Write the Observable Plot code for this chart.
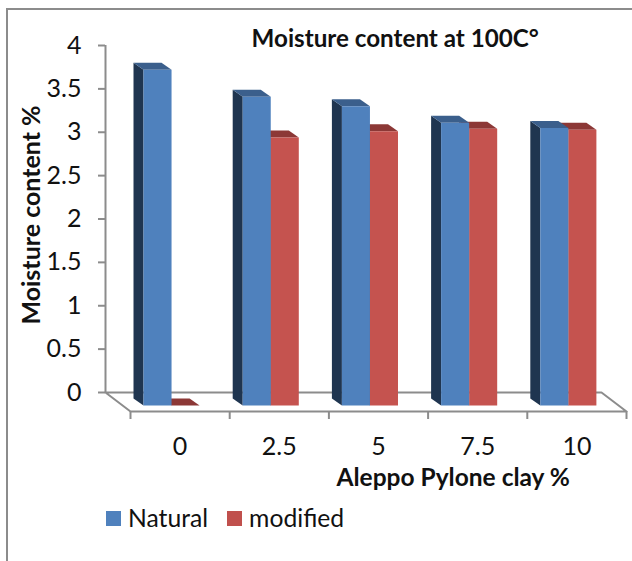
<!DOCTYPE html>
<html><head><meta charset="utf-8">
<script src="https://cdn.jsdelivr.net/npm/d3@7"></script>
<script src="https://cdn.jsdelivr.net/npm/@observablehq/plot@0.6"></script>
<style>
html,body{margin:0;padding:0;background:#fff;}
#box{position:relative;width:632px;height:561px;overflow:hidden;font-family:Lato,sans-serif;}
#frame{position:absolute;left:6px;top:8px;width:640px;height:600px;border:2px solid #8c8c8c;box-sizing:border-box;}
#chart{position:absolute;left:0;top:0;}
#legend{position:absolute;left:106px;top:503px;display:flex;align-items:center;font-size:24.7px;line-height:30px;color:#111;}
#legend i{display:inline-block;width:15px;height:15px;margin-right:7px;}
#legend span{margin-right:19px;}
</style></head><body>
<div id="box"><div id="frame"></div><div id="chart"></div>
<div id="legend"><i style="background:#4f81bd"></i><span>Natural</span><i style="background:#c0504d"></i><span>modified</span></div></div>
<script>
const categories = ["0","2.5","5","7.5","10"];
const natural = [3.87,3.56,3.45,3.26,3.20];
const modified = [0,3.09,3.16,3.19,3.18];
const yTicks = [0,0.5,1,1.5,2,2.5,3,3.5,4];
const xEdges = [-0.5,0.5,1.5,2.5,3.5,4.5];
const blues = ["#4f81bd","#3b5f8c","#1f3550"];
const reds = ["#c5534f","#8c3836","#8c3836"];

const idx = categories.map((_,i)=>i);
const pxX = 99.2, pxY = 86.75;          // plot scale: pixels per unit
const wallDx = 25/pxX, wallDy = 19/pxY; // floor depth in data units
const barDx = 10/pxX, barDy = 7/pxY;    // bar depth in data units
const barW = 0.2827, barStart = 0.1311; // bar width and left gap in category units

const faces = [];
function addBar(i, v, shift, cols, key){
  const a = i - 0.5 + barStart + shift*barW, b = a + barW;
  const push=(pts,c,f)=>pts.forEach(p=>faces.push({id:key+f,x:p[0],y:p[1],c}));
  if (v>0) push([[a-barDx,barDy],[a,0],[a,v],[a-barDx,v+barDy]],cols[2],"s");
  push([[a,v],[b,v],[b-barDx,v+barDy],[a-barDx,v+barDy]],cols[1],"t");
  if (v>0) push([[a,0],[b,0],[b,v],[a,v]],cols[0],"f");
}
idx.forEach(i=>{
  addBar(i,modified[i],1,reds,"m"+i);
  addBar(i,natural[i],0,blues,"n"+i);
});

const floor = [
  {x:-0.5-wallDx,y:0},{x:-0.5,y:-wallDy},{x:4.5,y:-wallDy},{x:4.5-wallDx,y:0},{x:-0.5-wallDx,y:0}
];
const gray = "#8c8c8c", ink = "#111";

const plot = Plot.plot({
  width:632,height:500,
  marginLeft:130,marginRight:6,marginTop:45,marginBottom:108,
  style:{background:"transparent",fontFamily:"Lato,sans-serif",overflow:"visible"},
  x:{type:"linear",domain:[-0.5,4.5],axis:null},
  y:{type:"linear",domain:[0,4],axis:null},
  marks:[
    Plot.axisY(yTicks,{anchor:"left",dx:-25,tickSize:7,tickPadding:17,fontSize:25,stroke:gray,strokeWidth:2,
      fill:ink,tickFormat:d=>String(d),label:null}),
    Plot.ruleX([-0.5],{y1:0,y2:4,dx:-25,stroke:gray,strokeWidth:2}),
    Plot.line(floor,{x:"x",y:"y",stroke:gray,strokeWidth:2,curve:"linear"}),
    Plot.ruleX(xEdges,{y1:-wallDy,y2:-wallDy-8/pxY,stroke:gray,strokeWidth:2}),
    Plot.line(faces,{x:"x",y:"y",z:"id",fill:"c",stroke:"none",curve:"linear",dy:13}),
    Plot.text(idx,{x:d=>d,y:-wallDy,text:d=>categories[d],dy:35,fontSize:25,fill:ink}),
    Plot.text(["Moisture content at 100C°"],{frameAnchor:"top-left",dx:121,dy:-16,textAnchor:"start",fontSize:24.2,fontWeight:"bold",fill:ink}),
    Plot.text(["Aleppo Pylone clay %"],{frameAnchor:"bottom-left",dx:206,dy:93,textAnchor:"start",fontSize:24.5,fontWeight:"bold",fill:ink}),
    Plot.text(["Moisture content %"],{frameAnchor:"left",dx:-99,dy:-4,rotate:-90,textAnchor:"middle",fontSize:25,fontWeight:"bold",fill:ink})
  ]
});
document.getElementById("chart").appendChild(plot);
</script></body></html>
